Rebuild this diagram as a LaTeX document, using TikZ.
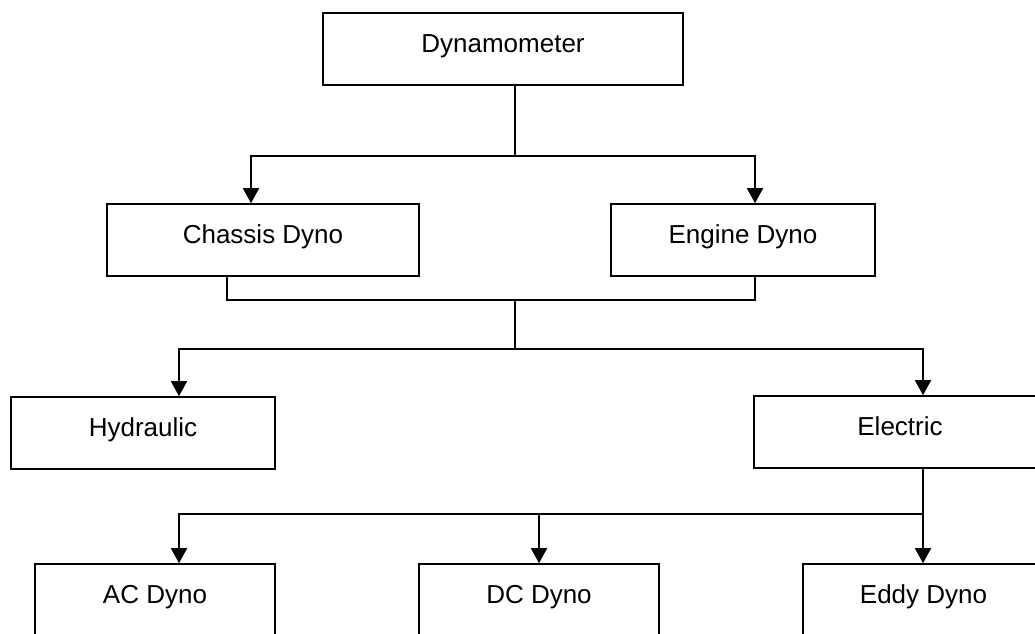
\documentclass[tikz,border=0pt]{standalone}
\usepackage{fontspec}
\setmainfont{Liberation Sans}
\usetikzlibrary{arrows.meta}
\begin{document}
\begin{tikzpicture}[x=1pt,y=-1pt,
  box/.style={draw, line width=1.6pt, rectangle, minimum height=72pt,
    inner xsep=0pt, inner ysep=20pt, text height=19pt, text depth=12pt,
    font=\fontsize{26}{31}\selectfont},
  link/.style={line width=1.6pt},
  arr/.style={line width=1.6pt, -{Triangle[width=16pt,length=15pt]}}]
\useasboundingbox (0,0) rectangle (1035,633);
\clip (0,0) rectangle (1035,633);
% boxes
\node[box, minimum width=360pt] (dyn) at (503,49) {Dynamometer};
\node[box, minimum width=312pt] (chassis) at (263,240) {Chassis Dyno};
\node[box, minimum width=264pt] (engine) at (743,240) {Engine Dyno};
\node[box, minimum width=264pt] (hyd) at (143,433) {Hydraulic};
\node[box, minimum width=292pt] (elec) at (900,432) {Electric};
\node[box, minimum width=240pt] (ac) at (155,600) {AC Dyno};
\node[box, minimum width=240pt] (dc) at (539,600) {DC Dyno};
\node[box, minimum width=241pt] (eddy) at (923.5,600) {Eddy Dyno};
% junction coordinates
\coordinate (j1) at (515,156);
\coordinate (j2) at (515,300);
\coordinate (j3) at (515,349);
\coordinate (j4) at (923,514);
% level 1
\draw[link] (j1 |- dyn.south) -- (j1);
\draw[arr] (j1) -| (251,0 |- chassis.north);
\draw[arr] (j1) -| (755,0 |- engine.north);
% level 2 merge
\draw[link] (227,0 |- chassis.south) |- (j2) -| (755,0 |- engine.south);
\draw[link] (j2) -- (j3);
\draw[arr] (j3) -| (179,0 |- hyd.north);
\draw[arr] (j3) -| (923,0 |- elec.north);
% level 3
\draw[link] (923,0 |- elec.south) -- (j4);
\draw[arr] (j4) -| (179,0 |- ac.north);
\draw[arr] (539,0 |- j4) -- (dc.north);
\draw[arr] (j4) -- (923,0 |- eddy.north);
\end{tikzpicture}
\end{document}
